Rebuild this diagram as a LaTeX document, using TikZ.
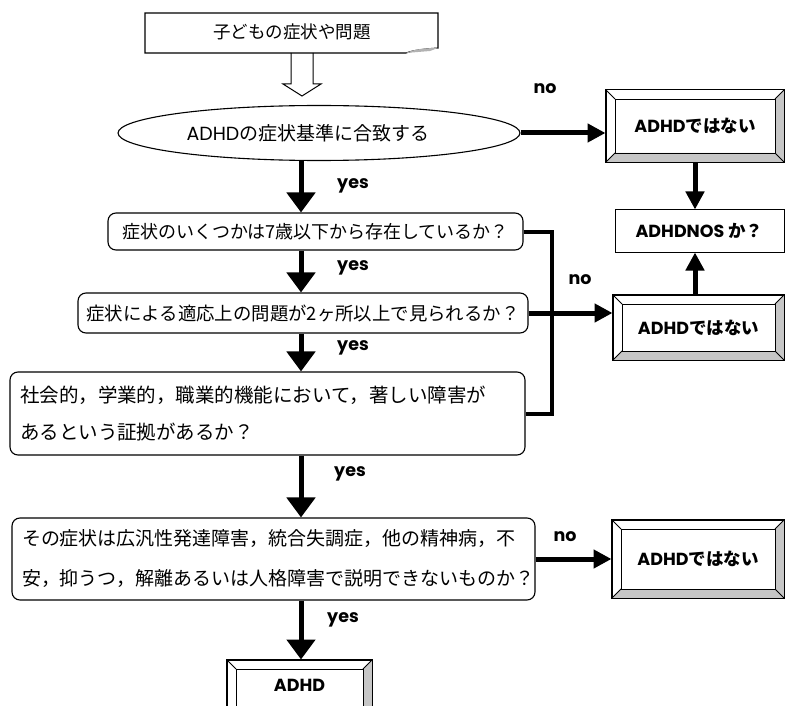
\documentclass[tikz,border=0pt]{standalone}
\usepackage{fontspec}
\setmainfont{Noto Sans CJK JP}
\newfontfamily\pop{Poppins}
\usetikzlibrary{arrows.meta,shapes.geometric}
\newcommand\bev[6]{%
  \node[draw, line width=1pt, minimum width={#4-#2}, minimum height={#5-#3}, inner sep=0pt,
        font=\bfseries\fontsize{17.5}{20}\selectfont] (#1) at ({(#2+#4)/2},{(#3+#5)/2}) {#6};
  \fill[bevg] (#2,#5) -- (#4,#5) -- (#4-9,#5-9) -- (#2+9,#5-9) -- cycle;
  \fill[bevg] (#4,#3) -- (#4,#5) -- (#4-9,#5-9) -- (#4-9,#3+9) -- cycle;
  \draw[line width=0.8pt] (#2+9,#3+9) rectangle (#4-9,#5-9);
  \draw[line width=0.8pt] (#2,#3) -- (#2+9,#3+9) (#4,#3) -- (#4-9,#3+9)
        (#2,#5) -- (#2+9,#5-9) (#4,#5) -- (#4-9,#5-9);
  \draw[line width=1pt] (#1.north west) rectangle (#1.south east);
}
\begin{document}
\begin{tikzpicture}[x=1pt,y=-1pt,
  bevg/.style={fill=gray!45},
  rbox/.style={draw, rounded corners=8pt, line width=1.1pt, inner sep=0pt},
  yesarr/.style={line width=5pt, -{Triangle[width=28pt,length=20pt]}},
  noarr/.style={line width=5pt, -{Triangle[width=18pt,length=18pt]}},
  lbl/.style={font=\pop\bfseries\fontsize{17.5}{20}\selectfont, inner sep=0pt}]
\clip (0,0) rectangle (785,706);
\fill[white] (0,0) rectangle (785,706);
\coordinate (axis) at (301,0);
\coordinate (br) at (552,0);

% top document box
\draw[line width=1.1pt] (145,13) -- (438,13) -- (438,48)
  .. controls (425,49) and (414,50) .. (406,53) -- (145,53) -- cycle;
\fill[gray!60] (406,53) .. controls (414,49) and (426,48) .. (438,48) -- (430,51) -- cycle;
\node[font=\fontsize{17.5}{20}\selectfont] (t) at (292,32) {子どもの症状や問題};
% open arrow
\draw[line width=1pt] (291,53) -- (291,84) -- (283,84) -- (302,96) -- (321,84) -- (313,84) -- (313,53);

% ellipse
\node[draw, ellipse, line width=1.1pt, minimum width=402pt, minimum height=55pt] (e) at (319,133) {};
\node[font=\fontsize{19}{20}\selectfont] (et) at (308,133) {{\pop ADHD}の症状基準に合致する};

% question boxes
\node[rbox, minimum width=415pt, minimum height=37pt, font=\fontsize{18}{20}\selectfont]
  (q1) at (315.5,231.5) {症状のいくつかは7歳以下から存在しているか？};
\node[rbox, minimum width=450pt, minimum height=40pt, font=\fontsize{18.4}{20}\selectfont]
  (q2) at (303,313) {症状による適応上の問題が2ヶ所以上で見られるか？};
\node[rbox, minimum width=515pt, minimum height=83pt, inner xsep=10pt, text width=495pt, align=left,
  font=\fontsize{19.5}{37}\selectfont]
  (q3) at (267.5,413.5) {社会的，学業的，職業的機能において，著しい障害が\\あるという証拠があるか？};
\node[rbox, minimum width=523pt, minimum height=82pt, inner xsep=10pt, text width=503pt, align=left,
  font=\fontsize{19}{40}\selectfont]
  (q4) at (273.5,559) {その症状は広汎性発達障害，統合失調症，他の精神病，不\\安，抑うつ，解離あるいは人格障害で説明できないものか？};

% outcome boxes
\bev{b1}{606}{90}{784}{162}{{\pop ADHD}ではない}
\node[draw, line width=1pt, minimum width=169pt, minimum height=42pt, inner sep=0pt,
  font=\bfseries\fontsize{17.5}{20}\selectfont] (nos) at (699.5,231) {{\pop ADHDNOS} か？};
\bev{b2}{613}{295}{784}{360}{{\pop ADHD}ではない}
\bev{b3}{612}{520}{784}{598}{{\pop ADHD}ではない}
\bev{b4}{227}{660}{372}{716}{\raisebox{5pt}{\pop ADHD}}

% connectors
\draw[noarr] (e.east) -- (e.east -| b1.west);
\draw[noarr] (b1.south -| 695,0) -- (nos.north -| 695,0);
\draw[noarr] (b2.north -| 695,0) -- (nos.south -| 695,0);
\draw[yesarr] (e.south -| axis) -- (q1.north -| axis);
\draw[yesarr] (q1.south -| axis) -- (q2.north -| axis);
\draw[yesarr] (q2.south -| axis) -- (q3.north -| axis);
\draw[yesarr] (q3.south -| axis) -- (q4.north -| axis);
\draw[yesarr] (q4.south -| axis) -- (b4.north -| axis);
\draw[line width=4pt] (q1.east) -- (q1.east -| br) -- (q3.east -| br) -- (q3.east);
\draw[noarr] (q2.east) -- (q2.east -| b2.west);
\draw[noarr] (q4.east) -- (q4.east -| b3.west);

% labels
\node[lbl] (y1) at (353,186) {yes};
\node[lbl] (y2) at (353,268) {yes};
\node[lbl] (y3) at (353,348) {yes};
\node[lbl] (y4) at (350,474) {yes};
\node[lbl] (y5) at (343,620) {yes};
\node[lbl] (n1) at (545,89) {no};
\node[lbl] (n2) at (580,280) {no};
\node[lbl] (n3) at (565,537) {no};
\end{tikzpicture}
\end{document}
